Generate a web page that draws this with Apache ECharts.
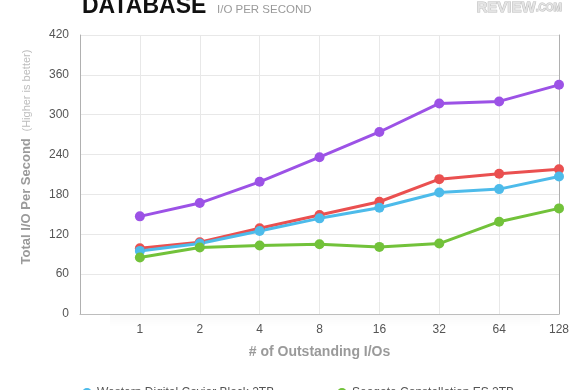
<!DOCTYPE html>
<html>
<head>
<meta charset="utf-8">
<script src="https://cdn.jsdelivr.net/npm/echarts@6/dist/echarts.min.js"></script>
<style>html,body{margin:0;padding:0;background:#fff;}#c{width:580px;height:390px;}</style>
</head>
<body>
<div id="c"></div>
<script>
var categories = ['', '1', '2', '4', '8', '16', '32', '64', '128'];
var yTicks = [0, 60, 120, 180, 240, 300, 360, 420];
var seriesNames = ['Western Digital Caviar Black 2TB', 'Seagate Constellation ES 2TB', 'Western Digital RE4 2TB', 'Hitachi Ultrastar 7K3000 2TB'];
var wdBlack = [null, 95, 106, 125, 144, 160, 183, 188, 207];
var seagateES = [null, 85, 100, 103, 105, 101, 106, 139, 159];
var wdRE4 = [null, 99, 108, 129, 149, 169, 203, 211, 218];
var hitachi = [null, 147, 167, 199, 236, 274, 317, 320, 345];
var colors = ['#4dbbea', '#72c23a', '#ea5050', '#9c52e6'];

var FONT = '"Liberation Sans", Arial, sans-serif';
var chart = echarts.init(document.getElementById('c'), null, {renderer: 'canvas'});

function mk(name, data, color) {
  return {
    name: name, type: 'line', data: data, connectNulls: false,
    symbol: 'circle', symbolSize: 10, showSymbol: true,
    lineStyle: {width: 3, color: color}, itemStyle: {color: color},
    emphasis: {disabled: true}, animation: false
  };
}

var legendCommon = {
  orient: 'horizontal', itemGap: 10,
  icon: 'circle', itemWidth: 10, itemHeight: 10,
  textStyle: {color: '#555', fontSize: 12, fontFamily: FONT}
};

chart.setOption({
  animation: false,
  textStyle: {fontFamily: FONT},
  grid: {left: 80, right: 21, top: 35, bottom: 76, containLabel: false},
  xAxis: {
    type: 'category', data: categories, boundaryGap: false,
    name: '# of Outstanding I/Os', nameLocation: 'middle', nameGap: 31,
    nameTextStyle: {color: '#9a9a9a', fontSize: 14, fontWeight: 'bold', fontFamily: FONT},
    axisLine: {show: true, lineStyle: {color: '#bdbdbd', width: 1}},
    axisTick: {show: false},
    axisLabel: {color: '#555', fontSize: 12, margin: 10, fontFamily: FONT},
    splitLine: {show: true, lineStyle: {color: '#e8e8e8', width: 1}}
  },
  yAxis: [{
    type: 'value', min: yTicks[0], max: yTicks[yTicks.length - 1], interval: yTicks[1] - yTicks[0],
    name: '{a|Total I/O Per Second}  {b|(Higher is better)}',
    nameLocation: 'middle', nameGap: 47, nameRotate: 90,
    nameTextStyle: {
      padding: [0, 0, 0, 35],
      rich: {
        a: {color: '#9a9a9a', fontSize: 13, fontWeight: 'bold', fontFamily: FONT},
        b: {color: '#bdbdbd', fontSize: 11, fontFamily: FONT}
      }
    },
    axisLine: {show: true, lineStyle: {color: '#b0b0b0', width: 1}},
    axisTick: {show: false},
    axisLabel: {color: '#555', fontSize: 12, margin: 11, fontFamily: FONT},
    splitLine: {show: true, lineStyle: {color: '#e8e8e8', width: 1}}
  }, {
    type: 'value', position: 'right', min: yTicks[0], max: yTicks[yTicks.length - 1], interval: yTicks[1] - yTicks[0],
    axisLine: {show: true, lineStyle: {color: '#b0b0b0', width: 1}},
    axisTick: {show: false}, axisLabel: {show: false}, splitLine: {show: false}
  }],
  legend: [
    Object.assign({left: 77, top: 382, data: [seriesNames[0]]}, legendCommon),
    Object.assign({left: 332, top: 382, data: [seriesNames[1]]}, legendCommon)
  ],
  graphic: [
    {type: 'rect', silent: true, z: -1, shape: {x: 110, y: 315, width: 430, height: 12},
     style: {fill: new echarts.graphic.LinearGradient(0, 0, 0, 1, [{offset: 0, color: 'rgba(0,0,0,0.025)'}, {offset: 1, color: 'rgba(0,0,0,0)'}])}},
    {type: 'text', left: 82, top: -5, style: {text: 'DATABASE', fill: '#111', font: '900 23px ' + FONT}},
    {type: 'text', left: 217, top: 4, style: {text: 'I/O PER SECOND', fill: '#9a9a9a', font: '11.5px ' + FONT}},
    {type: 'text', left: 476, top: 0, style: {
      text: '{r|REVIEW}{c|.COM}',
      rich: {
        r: {fill: '#e4e4e4', stroke: '#bcbcbc', lineWidth: 1, font: 'bold 15px ' + FONT},
        c: {fill: '#e4e4e4', stroke: '#bcbcbc', lineWidth: 1, font: 'bold 10px ' + FONT}
      }
    }}
  ],
  series: [
    mk(seriesNames[2], wdRE4, colors[2]),
    mk(seriesNames[3], hitachi, colors[3]),
    mk(seriesNames[0], wdBlack, colors[0]),
    mk(seriesNames[1], seagateES, colors[1])
  ]
});
</script>
</body>
</html>
